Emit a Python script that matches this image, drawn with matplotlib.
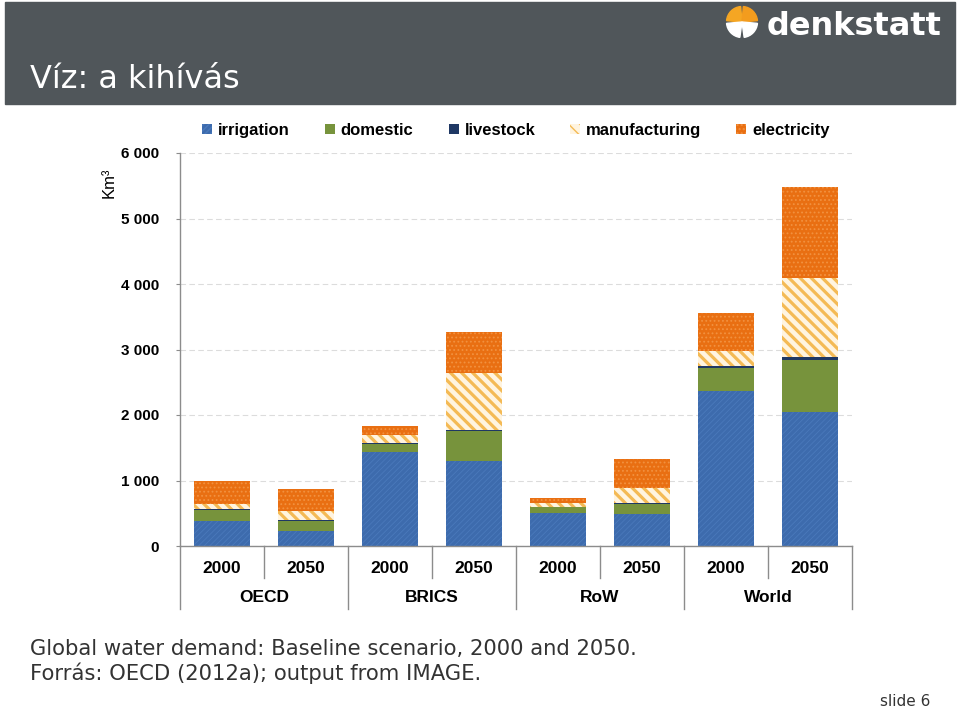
#!/usr/bin/env python3
# -*- coding: utf-8 -*-
"""
Global water demand, baseline scenario 2000 / 2050 (OECD 2012a, IMAGE).
Slide-style stacked bar chart, saved as out.png.
"""

import matplotlib
matplotlib.use("Agg")
import matplotlib.pyplot as plt
from matplotlib.patches import Rectangle, Wedge

# ==========================
# data (km3)

years = ["2000", "2050", "2000", "2050", "2000", "2050", "2000", "2050"]
regions = ["OECD", "BRICS", "RoW", "World"]

irrigation    = [380, 224, 1430, 1293, 510, 495, 2370, 2040]
domestic      = [165, 165, 130, 465, 85, 150, 355, 800]
livestock     = [15, 15, 10, 15, 5, 17, 20, 40]
manufacturing = [75, 135, 125, 865, 62, 228, 235, 1205]
electricity   = [355, 330, 140, 625, 75, 433, 570, 1390]

y_ticks = [0, 1000, 2000, 3000, 4000, 5000, 6000]
y_tick_labels = ["0", "1 000", "2 000", "3 000", "4 000", "5 000", "6 000"]

# ==========================

HEADER = "#50565a"
AXIS_GREY = "#8c8c8c"
LABEL_FONT = ["Liberation Sans", "DejaVu Sans"]

# name, values, face, hatch colour, hatch, hatch linewidth
series = [
    ("irrigation", irrigation, "#3d6bad", "#4a79bb", "//////", 0.6),
    ("domestic", domestic, "#77933c", "#77933c", None, 0.6),
    ("livestock", livestock, "#1f3864", "#1f3864", None, 0.6),
    ("manufacturing", manufacturing, "#fff4e0", "#f4ba55", "\\\\\\", 2.3),
    ("electricity", electricity, "#e96f12", "#f2913f", "....", 0.8),
]


def main():
    fig = plt.figure(figsize=(9.6, 7.11), dpi=100)

    # ----- slide header -----
    fig.patches.append(Rectangle((5 / 960, 1 - 104 / 711), 950 / 960, 102 / 711,
                                 transform=fig.transFigure, color=HEADER, zorder=0))
    fig.text(30 / 960, 1 - 88 / 711, "Víz: a kihívás", color="white",
             fontsize=23, family="DejaVu Sans", va="baseline", ha="left")

    # logo: little shield + name (positions in inches from bottom left)
    cx, cy, r = 7.42, 7.11 - 0.22, 0.155
    for th1, th2, col in [(95, 175, "#f5a623"), (5, 85, "#f39c1e"),
                          (185, 262, "white"), (278, 355, "white")]:
        w = Wedge((cx, cy), r, th1, th2, color=col)
        w.set_transform(fig.dpi_scale_trans)
        fig.patches.append(w)
    fig.text(767 / 960, 1 - 35 / 711, "denkstatt", color="white", fontsize=23,
             fontweight="bold", family="DejaVu Sans", va="baseline", ha="left")

    # ----- chart -----
    ax = fig.add_axes([180 / 960, 1 - 546 / 711, 672 / 960, 393 / 711])
    x = list(range(len(years)))
    bottom = [0] * len(years)
    handles = []
    for name, vals, face, hcol, hatch, hlw in series:
        with plt.rc_context({"hatch.linewidth": hlw}):
            bars = ax.bar(x, vals, width=0.66, bottom=bottom, color=face,
                          edgecolor=hcol, linewidth=0, hatch=hatch,
                          label=name, zorder=2)
        handles.append(bars)
        bottom = [b + v for b, v in zip(bottom, vals)]

    ax.set_ylim(0, 6000)
    ax.set_xlim(-0.5, len(years) - 0.5)
    ax.set_yticks(y_ticks)
    ax.set_yticklabels(y_tick_labels, fontsize=11, fontweight="bold",
                       family=LABEL_FONT)
    ax.set_xticks([])
    ax.tick_params(axis="y", length=3, color=AXIS_GREY, pad=12)
    ax.yaxis.grid(True, color="#dcdcdc", lw=0.8, ls=(0, (5, 3)))
    ax.set_axisbelow(True)

    for side in ["top", "right"]:
        ax.spines[side].set_visible(False)
    for side in ["left", "bottom"]:
        ax.spines[side].set_color(AXIS_GREY)
        ax.spines[side].set_linewidth(1.0)

    ax.set_ylabel("Km³", fontsize=12, family=LABEL_FONT, labelpad=0)
    ax.yaxis.set_label_coords(-0.095, 0.925)

    # two level category axis
    trans = ax.get_xaxis_transform()
    for i, yr in enumerate(years):
        ax.text(i, -0.056, yr, transform=trans, ha="center", va="center",
                fontsize=12.5, fontweight="bold", family=LABEL_FONT)
    for j, reg in enumerate(regions):
        ax.text(2 * j + 0.5, -0.132, reg, transform=trans, ha="center",
                va="center", fontsize=12.5, fontweight="bold", family=LABEL_FONT)
    for k in range(len(years) + 1):
        b = k - 0.5
        low = -0.16 if k % 2 == 0 else -0.082
        ax.plot([b, b], [0, low], transform=trans, clip_on=False,
                color=AXIS_GREY, lw=1.0)

    ax.legend(handles=handles, loc="center", bbox_to_anchor=(0.5, 1.058),
              ncol=5, frameon=False, handlelength=0.6, handleheight=0.6,
              handletextpad=0.35, columnspacing=2.1,
              prop={"family": LABEL_FONT, "weight": "bold", "size": 12})

    # ----- caption -----
    fig.text(30 / 960, 1 - 655 / 711,
             "Global water demand: Baseline scenario, 2000 and 2050.",
             fontsize=15.2, color="#333333", family="DejaVu Sans", va="baseline")
    fig.text(30 / 960, 1 - 680 / 711,
             "Forrás: OECD (2012a); output from IMAGE.",
             fontsize=15.2, color="#333333", family="DejaVu Sans", va="baseline")
    fig.text(930 / 960, 1 - 706 / 711, "slide 6", fontsize=11,
             color="#333333", family="DejaVu Sans", va="baseline", ha="right")

    fig.savefig("out.png", dpi=100)
    plt.close(fig)


if __name__ == "__main__":
    main()
